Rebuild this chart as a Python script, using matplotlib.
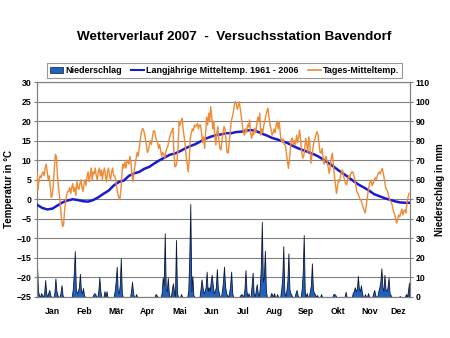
import numpy as np
import matplotlib
matplotlib.use("Agg")
import matplotlib.pyplot as plt
from matplotlib.patches import Patch
from matplotlib.lines import Line2D

plt.rcParams['font.family'] = ['Liberation Sans', 'DejaVu Sans']
plt.rcParams['font.weight'] = 'bold'

# ---------------- data ----------------
title = "Wetterverlauf 2007  -  Versuchsstation Bavendorf"
months = ["Jan", "Feb", "Mär", "Apr", "Mai", "Jun", "Jul", "Aug", "Sep", "Okt", "Nov", "Dez"]

# daily mean temperature 2007 (°C), day 0 = 1 Jan
tages_temp = [
    7, 2.5, 5, 6, 5.5, 6.5, 7, 6, 8, 9, 7, 5, 6, 3, 0.5, 1, 4, 8, 11.5, 11,
    6, 3, 1, -2, -5, -7, -6.5, -3, -0.5, 1, 2,
    2, 3, 1.5, 3, 4, 2, 3, 1, 4.5, 3, 2.5, 4, 5, 3, 2, 4,
    5, 3.5, 6, 7, 4.5, 6, 8, 5, 7, 6.5, 8, 6,
    5, 7, 8, 6, 7.5, 5, 7, 8, 6, 4.5, 7, 8, 6, 5, 7, 8, 6,
    6, 5, 3, 1.5, 0.5, 0, 2, 6, 9, 8, 9.5, 8, 10, 9.5,
    9, 11, 9.5, 6, 4.5, 7, 9, 10.5, 12, 11, 13, 15, 17, 18, 18, 17, 15.5, 14, 12, 12.5,
    14, 15, 14, 16, 17.5, 17.5, 16, 15, 14.5, 13,
    14, 12.5, 11, 12, 11.5, 10.6, 12, 13, 13.5, 15, 16, 17, 17.5, 18.2, 12, 8.3, 8.5, 9.6, 13, 19.9,
    19, 20, 20.7, 18, 16, 13.9, 11, 9, 7, 10, 15.6,
    17, 18, 17.5, 19, 18.5, 19, 19.4, 18, 19, 19, 17, 14.5, 16, 13, 17, 21, 19, 22, 20, 23.7,
    21, 18, 20, 16, 13.9, 17, 18.6, 15, 13, 12.6, 15, 17, 18.6, 18, 15,
    12, 11.8, 14, 17, 19.9, 21, 22, 24, 25, 24.5, 23, 24, 24.9, 23, 21, 19, 17, 16.4, 18, 17,
    19, 18.5, 20.3, 17, 15.6, 17, 16.5, 18.2, 17, 19, 21,
    20, 22, 16.4, 18, 17, 19, 20, 21.5, 22.5, 23.3, 21, 19, 18, 16.4, 17, 18, 17, 19, 19.9, 18,
    19.9, 17, 15, 14.7, 15.5, 14, 13.9, 12, 10, 7.9, 10,
    13, 15.5, 15.6, 14, 15, 14, 16.4, 14.5, 16, 17.7, 15, 12, 10.5, 11, 13, 15.6, 14, 12, 16, 14,
    9.2, 11, 13, 14.7, 15.5, 16.5, 17.3, 16.5, 14, 12,
    11.8, 13, 10, 9, 10.5, 11, 9.5, 8, 6.6, 8.5, 10.5, 11.8, 9, 6, 4, 1.5, 3, 5, 4.5, 6,
    7, 7.5, 6, 5, 4, 3.7, 5, 6, 5.5, 6.5, 7,
    7, 6, 5, 3.5, 1.9, 1.5, 0.8, 0, -0.2, -1, -2, -2.7, -3.5, -2, 0, 2, 3.5, 4.5, 4.9, 3.5,
    4, 4.9, 5.5, 5, 6, 6.6, 7, 6.5, 7.5, 7.9,
    6.5, 5, 3.2, 2.5, 2, 1, 0, -0.5, -1, -2, -3.2, -4, -5, -6.1, -5, -4, -4.5, -3.5, -2.5, -4,
    -3, -2.7, -3.5, -1, 0.5, 1.5,
]

# long-term mean temperature 1961-2006 (°C), sampled every 5 days
mittel_tage = list(range(0, 365, 5)) + [364]
mittel_temp = [
    -1.4, -2.2, -2.6, -2.4, -1.6, -0.8, -0.3, 0.0, -0.2, -0.5,
    -0.6, -0.2, 0.5, 1.4, 2.2, 3.5, 4.4, 4.8, 6.0, 6.6,
    7.0, 7.8, 8.3, 9.2, 10.0, 10.7, 11.4, 11.7, 12.3, 13.0,
    13.6, 14.1, 14.8, 15.5, 16.0, 16.4, 16.6, 16.9, 16.9, 17.2,
    17.3, 17.6, 17.7, 17.4, 16.8, 16.3, 15.7, 15.3, 14.9, 14.4,
    13.7, 13.1, 12.6, 12.1, 11.6, 11.0, 10.2, 9.3, 8.4, 7.4,
    6.5, 5.6, 4.6, 3.7, 3.0, 2.2, 1.3, 0.8, 0.3, -0.1,
    -0.5, -0.8, -0.9, -0.9,
]

# precipitation (mm): days with rain and amounts
regen_tage = [
    0, 1, 2, 4, 5, 7, 8, 9, 11, 12, 13, 17, 18, 19, 20, 23, 24, 25,
    35, 36, 37, 38, 39, 40, 41, 42, 43, 44, 45, 46, 55, 56, 57, 60, 61, 62, 66, 68,
    76, 77, 78, 79, 80, 81, 82, 83, 92, 93, 94, 97,
    116, 117,
    122, 123, 124, 125, 126, 127, 128, 129, 132, 133, 134, 136, 137, 141, 148, 149, 150, 151, 152, 153,
    160, 161, 162, 163, 164, 165, 166, 167, 168, 169, 170, 171, 172, 173, 174, 175, 176, 177, 178,
    181, 182, 183, 184, 185, 186, 188, 189, 190, 191,
    199, 200, 201, 203, 204, 205, 207, 210, 211, 212, 214, 215, 216, 218, 219, 220, 221, 222, 223, 224,
    229, 230, 232, 235, 239, 240, 241, 242, 244, 245, 246, 247, 248, 249,
    253, 254, 255, 259, 260, 261, 262, 264, 267, 268, 269, 270, 271, 272, 274, 278,
    290, 291, 292, 302,
    309, 310, 311, 312, 313, 314, 315, 316, 317, 318, 321, 324, 329, 330, 331,
    334, 335, 336, 337, 338, 339, 340, 341, 342, 343, 344, 345, 346, 355, 361, 363, 364,
]
regen_mm = [
    16.4, 3, 1, 2, 1, 2, 8.7, 2, 2, 3.6, 1, 2, 9.5, 3, 1, 2, 6.1, 1,
    4, 12, 23.5, 4, 2, 3, 5, 11.8, 3, 2, 4.6, 1, 1, 2, 1.5, 3, 10, 3, 3, 3,
    3, 8, 15.5, 3, 2, 6, 19.8, 2, 3, 7.8, 2, 1.5,
    1.5, 1,
    2, 10, 6, 32.6, 4, 3, 10, 2, 4, 7, 3, 29.2, 2, 1.5, 3, 20, 47.6, 3, 10.7, 1,
    4, 9, 5, 2, 3, 5, 13, 3, 5, 3, 8, 11.3, 6, 2, 3, 5, 14.3, 4, 2,
    3, 8, 15.5, 6, 2, 1, 2, 6, 13, 2,
    1, 1.5, 1, 4, 13.8, 3, 2, 6, 12.4, 2, 3, 6.6, 2, 5, 15, 38.5, 8, 10, 23.7, 3,
    2, 1.5, 2, 1.5, 4, 10, 26, 3, 3, 8, 22.3, 4, 2, 1,
    2, 3.6, 1, 4, 12, 31.7, 3, 2, 3, 6, 17.2, 4, 2, 1.5, 1, 1.5,
    1.5, 1.5, 1, 2.7,
    2, 3, 5, 3, 4, 10.7, 4, 3, 6, 2, 1.5, 2, 2, 3.6, 1,
    3, 5, 8, 14.7, 5, 3, 11.3, 4, 3, 5, 10, 2, 1, 0.5, 1.5, 3, 7.3,
]

# ---------------- figure ----------------
n_days = len(tages_temp)
tage = np.arange(n_days)
niederschlag = np.zeros(n_days)
niederschlag[np.array(regen_tage)] = regen_mm

fig = plt.figure(figsize=(4.5, 3.38), dpi=100)
L, R, B, T = 37/450, 410/450, 1-297/338, 1-82/338
ax = fig.add_axes([L, B, R-L, T-B])
axp = ax.twinx()
ax.set_zorder(axp.get_zorder() + 1)
ax.patch.set_visible(False)

grid_c = '#808080'
tick_fs = 6.3
# precipitation (back axes) with gridlines
axp.fill_between(tage, niederschlag, 0, facecolor='#1f62c0', edgecolor='#0d1838', linewidth=0.6, zorder=2)
axp.set_ylim(0, 110)
axp.set_yticks(np.arange(0, 111, 10))
axp.set_xlim(0, 365)
axp.set_xticks(np.arange(0, 365, 31))
axp.grid(True, color=grid_c, linewidth=0.8)
axp.set_axisbelow(True)
axp.tick_params(axis='y', labelsize=tick_fs, length=2.5, pad=1.5, color=grid_c, width=0.8)
axp.set_ylabel("Niederschlag in mm", fontsize=7, fontweight='bold')
axp.yaxis.set_label_coords(1.066, 0.5)

# temperatures (front axes)
ax.plot(mittel_tage, mittel_temp, color='#1a1ad0', linewidth=1.8, zorder=3)
ax.plot(tage, tages_temp, color='#ef8a35', linewidth=1.0, zorder=4)
ax.set_ylim(-25, 30)
ax.set_yticks(np.arange(-25, 31, 5))
ax.set_xlim(0, 365)
ax.set_xticks(np.arange(0, 365, 31))
ax.set_xticklabels([])
ax.tick_params(axis='x', length=0)
mon_pos = [15.5 + 31*k for k in range(11)] + [353]
ax.set_xticks(mon_pos, minor=True)
ax.set_xticklabels(months, minor=True, fontsize=tick_fs, fontweight='bold')
ax.tick_params(axis='x', which='minor', length=0, pad=7)
ax.tick_params(axis='y', labelsize=tick_fs, length=2.5, pad=1.5, color=grid_c, width=0.8)
ax.set_ylabel("Temperatur in °C", fontsize=7, fontweight='bold')
ax.yaxis.set_label_coords(-0.062, 0.5)

for a in (ax, axp):
    for s in a.spines.values():
        s.set_color(grid_c)
        s.set_linewidth(0.8)

fig.text(234/450, 1-37.5/338, title, fontsize=9.7, fontweight='bold', ha='center', va='center')

handles = [Patch(facecolor='#1f62c0', edgecolor='#0d1838', linewidth=0.5),
           Line2D([], [], color='#1a1ad0', linewidth=1.5),
           Line2D([], [], color='#ef8a35', linewidth=1.2)]
labels = ["Niederschlag", "Langjährige Mitteltemp. 1961 - 2006", "Tages-Mitteltemp."]
leg = fig.legend(handles, labels, loc='center', bbox_to_anchor=(224.5/450, 1-70.5/338), ncol=3,
                 fontsize=6.5, frameon=True, fancybox=False, edgecolor=grid_c, handlelength=1.5,
                 handleheight=0.6, handletextpad=0.2, columnspacing=1.0, borderpad=0.3)
leg.get_frame().set_linewidth(0.8)
for t in leg.get_texts():
    t.set_fontweight('bold')

fig.savefig("out.png", dpi=100)
